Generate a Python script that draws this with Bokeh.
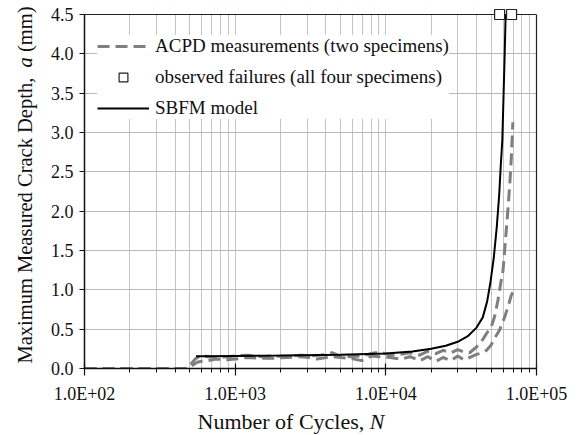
import numpy as np
from bokeh.plotting import figure
from bokeh.models import (FixedTicker, Legend, LegendItem, Label, LinearAxis,
                          Span, BoxAnnotation, Range1d)
from bokeh.layouts import row, column
from bokeh.embed import file_html
from bokeh.resources import INLINE

# ---------------- data ----------------
X_MAJOR = [1e2, 1e3, 1e4, 1e5]
X_TICK_LABELS = ["1.0E+02", "1.0E+03", "1.0E+04", "1.0E+05"]
Y_TICKS = [0.0, 0.5, 1.0, 1.5, 2.0, 2.5, 3.0, 3.5, 4.0, 4.5]
Y_TICK_LABELS = ["0.0", "0.5", "1.0", "1.5", "2.0", "2.5", "3.0", "3.5", "4.0", "4.5"]
Y_MAX = 4.5

# ACPD measurements, specimen 1 (upper dashed curve)
ACPD1_N = [100, 250, 480, 543, 590, 660, 750, 885, 1000, 1220, 1500, 1780, 2200,
           2700, 3160, 3700, 4380, 5000, 5760, 6900, 8040, 9100, 10700, 12500,
           14500, 16800, 19000, 21500, 24000, 27000, 30000, 33000, 36000, 39800,
           43000, 46400, 50100, 52700, 55500, 58300, 60000, 62000, 64500, 66500,
           68000, 69700]
ACPD1_A = [0.0, 0.0, 0.0, 0.12, 0.17, 0.15, 0.14, 0.15, 0.16, 0.17, 0.15, 0.16, 0.15,
           0.17, 0.16, 0.17, 0.20, 0.16, 0.15, 0.16, 0.19, 0.21, 0.17, 0.18,
           0.20, 0.17, 0.22, 0.19, 0.23, 0.20, 0.24, 0.21, 0.20, 0.27,
           0.34, 0.44, 0.53, 0.66, 0.87, 1.12, 1.25, 1.59, 2.00, 2.35,
           2.67, 3.13]

# ACPD measurements, specimen 2 (lower dashed curve)
ACPD2_N = [100, 250, 480, 560, 620, 660, 750, 885, 1000, 1200, 1500, 1780, 2200,
           2700, 3160, 3500, 4380, 5000, 5760, 6900, 8040, 9100, 10700, 12500,
           14500, 16800, 19000, 21500, 24000, 27000, 30000, 33000, 35000, 40000,
           44000, 46500, 50000, 52500, 56900, 61400, 64600, 68000, 69700]
ACPD2_A = [0.0, 0.0, 0.0, 0.08, 0.10, 0.10, 0.12, 0.11, 0.12, 0.14, 0.13, 0.13, 0.14,
           0.15, 0.14, 0.12, 0.15, 0.14, 0.13, 0.10, 0.16, 0.15, 0.14, 0.12,
           0.15, 0.10, 0.15, 0.09, 0.14, 0.10, 0.16, 0.11, 0.13, 0.18,
           0.20, 0.23, 0.30, 0.38, 0.49, 0.65, 0.78, 0.93, 0.97]

# SBFM model (solid curve)
MODEL_N = [550, 600, 1000, 2000, 5000, 10000, 15000, 20000, 25000, 30000, 35000,
           40000, 44000, 47000, 49500, 52000, 54500, 56500, 58000, 59300, 60500,
           61500, 62400]
MODEL_A = [0.155, 0.156, 0.16, 0.165, 0.175, 0.19, 0.215, 0.25, 0.29, 0.34, 0.41,
           0.52, 0.65, 0.85, 1.10, 1.40, 1.80, 2.20, 2.60, 2.90, 3.50,
           4.00, 4.50]

# observed failures
FAIL_N = [56900, 68300]
FAIL_A = [4.5, 4.5]

LEGEND_LABELS = ["ACPD measurements (two specimens)",
                 "observed failures (all four specimens)",
                 "SBFM model"]
X_TITLE = ["Number of Cycles,", "N"]
Y_TITLE = ["Maximum  Measured Crack Depth,", "a", "(mm)"]

FONT = "Liberation Serif"
GRID = "#c4c4c4"
DASH_COLOR = "#7f7f7f"
TXT = "#111111"

# ---------------- main figure ----------------
Y_END = Y_MAX * 362.0 / 354.0
p = figure(width=537, height=407, x_axis_type="log",
           x_range=Range1d(1e2, 1e5), y_range=Range1d(0, Y_END),
           output_backend="svg", toolbar_location=None,
           min_border_left=40, min_border_right=45,
           min_border_top=6, min_border_bottom=39)
p.frame_align = False
p.background_fill_color = "white"
p.border_fill_color = "white"
p.outline_line_color = None

minor = [m * 10 ** d for d in range(2, 5) for m in range(2, 10)]
xt = FixedTicker(ticks=X_MAJOR, minor_ticks=minor)
p.xaxis.ticker = xt
p.xgrid.ticker = xt
p.xaxis.major_label_overrides = {v: s for v, s in zip(X_MAJOR, X_TICK_LABELS)}
p.yaxis.ticker = FixedTicker(ticks=Y_TICKS)
p.ygrid.ticker = FixedTicker(ticks=Y_TICKS)
p.yaxis.major_label_overrides = {v: s for v, s in zip(Y_TICKS, Y_TICK_LABELS)}
p.yaxis.bounds = (0, Y_MAX)

p.xgrid.grid_line_color = GRID
p.xgrid.minor_grid_line_color = GRID
p.ygrid.grid_line_color = "#b8b8b8"

for ax in (p.xaxis[0], p.yaxis[0]):
    ax.axis_line_color = TXT
    ax.axis_line_width = 1.5
    ax.major_tick_line_color = TXT
    ax.minor_tick_line_color = TXT
    ax.major_tick_line_width = 1.2
    ax.major_label_text_font = FONT
    ax.major_label_text_font_size = "18px"
    ax.major_label_text_color = TXT

p.xaxis.major_tick_in = 5
p.xaxis.major_tick_out = 7
p.xaxis.minor_tick_in = 0
p.xaxis.minor_tick_out = 4
p.xaxis.major_label_standoff = 8
p.yaxis.major_tick_in = 0
p.yaxis.major_tick_out = 5
p.yaxis.minor_tick_line_color = None
p.yaxis.major_label_standoff = 6

# right border as a bare axis, top border as a span; grid masked above 4.5
rax = LinearAxis(ticker=FixedTicker(ticks=[]), bounds=(0, Y_MAX),
                 axis_line_color="#222222", axis_line_width=1.2,
                 major_tick_line_color=None, minor_tick_line_color=None,
                 major_label_text_font_size="0px")
p.add_layout(rax, "right")
p.add_layout(BoxAnnotation(bottom=Y_MAX, fill_color="white", fill_alpha=1.0,
                           line_color=None, level="underlay"))
p.add_layout(Span(location=Y_MAX, dimension="width", line_color="#222222",
                  line_width=1.2, level="underlay"))

r1 = p.line(ACPD1_N, ACPD1_A, line_color=DASH_COLOR, line_width=3, line_dash="12 6")
r2 = p.line(ACPD2_N, ACPD2_A, line_color=DASH_COLOR, line_width=3, line_dash="12 6")
rm = p.line(MODEL_N, MODEL_A, line_color="black", line_width=2)
rf = p.scatter(FAIL_N, FAIL_A, marker="square", size=10, fill_color="white",
               line_color="#222222", line_width=1.2)

legend = Legend(items=[LegendItem(label=LEGEND_LABELS[0], renderers=[r1]),
                       LegendItem(label=LEGEND_LABELS[1], renderers=[rf]),
                       LegendItem(label=LEGEND_LABELS[2], renderers=[rm])],
                location=(13, 249), orientation="vertical",
                label_text_font=FONT, label_text_font_size="19px",
                label_text_color=TXT,
                glyph_width=52, glyph_height=22, label_height=22,
                label_standoff=6, spacing=9, padding=8, margin=0,
                border_line_color=None, background_fill_color="white",
                background_fill_alpha=1.0)
p.add_layout(legend, "center")

# ---------------- axis title strips ----------------
def strip(w, h):
    f = figure(width=w, height=h, x_axis_type=None, y_axis_type=None,
               output_backend="svg", toolbar_location=None,
               min_border=0, min_border_left=0, min_border_right=0,
               min_border_top=0, min_border_bottom=0,
               x_range=Range1d(0, 1), y_range=Range1d(0, 1), title=None)
    f.frame_align = False
    f.outline_line_color = None
    f.background_fill_color = "white"
    f.border_fill_color = "white"
    return f

yfig = strip(44, 435)
YFS = 20.5
y0 = 72
w1 = 14.442 * YFS
wa = 0.5 * YFS
for txt, yy, style in [(Y_TITLE[0], y0, "normal"),
                       (Y_TITLE[1], y0 + w1, "italic"),
                       (Y_TITLE[2], y0 + w1 + wa + 0.25 * YFS, "normal")]:
    yfig.add_layout(Label(x=24, y=yy, x_units="screen", y_units="screen",
                          angle=np.pi / 2, text=txt, text_font=FONT,
                          text_font_size=f"{YFS}px", text_font_style=style,
                          text_align="left", text_baseline="middle",
                          text_color=TXT))

xfig = strip(537, 28)
XFS = 22
x0 = 153
for txt, xx, style in [(X_TITLE[0], x0, "normal"),
                       (X_TITLE[1], x0 + 7.832 * XFS, "italic")]:
    xfig.add_layout(Label(x=xx, y=14, x_units="screen", y_units="screen",
                          text=txt, text_font=FONT, text_font_size=f"{XFS}px",
                          text_font_style=style, text_align="left",
                          text_baseline="alphabetic", text_color=TXT))

layout = row(yfig, column(p, xfig))
open("out.html", "w").write(file_html(layout, INLINE))
